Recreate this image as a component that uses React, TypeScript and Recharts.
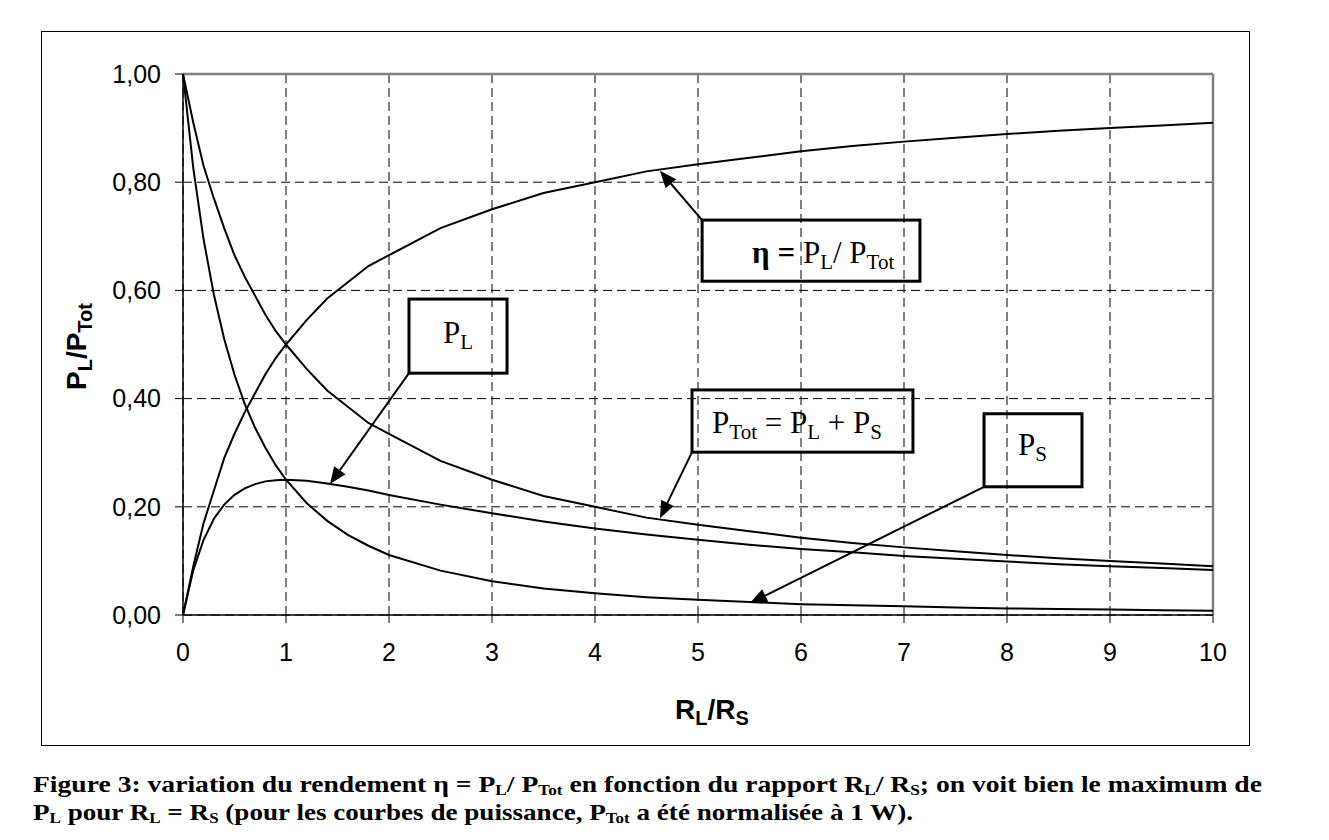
import React from 'react';
import { LineChart, Line, XAxis, YAxis, CartesianGrid, ReferenceLine, ReferenceArea } from 'recharts';

// R_L / R_S
const ratio = [0, 0.1, 0.2, 0.3, 0.4, 0.5, 0.6, 0.7, 0.8, 0.9, 1, 1.2, 1.4, 1.6, 1.8, 2, 2.5, 3, 3.5, 4, 4.5, 5, 5.5, 6, 6.5, 7, 7.5, 8, 8.5, 9, 9.5, 10];
// η = PL / PTot
const eta = [0, 0.09, 0.17, 0.23, 0.29, 0.335, 0.375, 0.41, 0.445, 0.475, 0.5, 0.545, 0.585, 0.615, 0.645, 0.665, 0.715, 0.75, 0.78, 0.8, 0.82, 0.833, 0.845, 0.857, 0.867, 0.875, 0.882, 0.889, 0.895, 0.9, 0.905, 0.91];
// PTot
const pTot = [1, 0.91, 0.83, 0.77, 0.715, 0.665, 0.625, 0.59, 0.555, 0.525, 0.5, 0.455, 0.415, 0.385, 0.355, 0.335, 0.285, 0.25, 0.22, 0.2, 0.18, 0.167, 0.155, 0.143, 0.133, 0.125, 0.118, 0.111, 0.105, 0.1, 0.095, 0.09];
// PL
const pL = [0, 0.083, 0.139, 0.178, 0.204, 0.222, 0.234, 0.242, 0.247, 0.249, 0.25, 0.248, 0.243, 0.237, 0.23, 0.222, 0.204, 0.188, 0.173, 0.16, 0.149, 0.139, 0.13, 0.122, 0.116, 0.109, 0.104, 0.099, 0.094, 0.09, 0.087, 0.083];
// PS
const pS = [1, 0.826, 0.694, 0.592, 0.51, 0.444, 0.39, 0.346, 0.309, 0.277, 0.25, 0.207, 0.174, 0.148, 0.128, 0.111, 0.082, 0.0625, 0.049, 0.04, 0.033, 0.028, 0.024, 0.02, 0.018, 0.016, 0.014, 0.012, 0.011, 0.01, 0.009, 0.008];

const xTicks = [0, 1, 2, 3, 4, 5, 6, 7, 8, 9, 10];
const yTicks = [0, 0.2, 0.4, 0.6, 0.8, 1];

// annotation boxes [x1, x2, y1, y2] in data units
const etaBox = [5.04, 7.155, 0.617, 0.730];
const pLBox = [2.194, 3.146, 0.447, 0.584];
const pTotBox = [4.942, 7.087, 0.301, 0.416];
const pSBox = [7.777, 8.728, 0.237, 0.372];

// arrows: from box corner to curve
const etaArrow = [[5.04, 0.730], [4.63, 0.821]];
const pLArrow = [[2.194, 0.447], [1.427, 0.242]];
const pTotArrow = [[4.942, 0.301], [4.631, 0.179]];
const pSArrow = [[7.777, 0.237], [5.505, 0.022]];

const data = ratio.map((r, i) => ({ r, eta: eta[i], pTot: pTot[i], pL: pL[i], pS: pS[i] }));

const SANS = '"Liberation Sans", Arial, sans-serif';
const SERIF = '"Liberation Serif", "Times New Roman", serif';

const fmt = (v: number) => v.toFixed(2).replace('.', ',');

// parts: plain strings, or ['sub', text] for subscripts
type Part = string | [string, string];
const rich = (parts: Part[], subSize: number, shift: number, boldFirst = '') => {
  let down = false;
  const out: React.ReactNode[] = [];
  if (boldFirst) out.push(<tspan key="b" fontWeight="bold">{boldFirst}</tspan>);
  parts.forEach((p, i) => {
    if (Array.isArray(p)) {
      out.push(<tspan key={i} fontSize={subSize} dy={down ? 0 : shift}>{p[1]}</tspan>);
      down = true;
    } else {
      out.push(<tspan key={i} dy={down ? -shift : 0}>{p}</tspan>);
      down = false;
    }
  });
  return out;
};
const S = (t: string): [string, string] => ['sub', t];

const Arrow = (p: any) => {
  const { x1, y1, x2, y2 } = p;
  const a = Math.atan2(y2 - y1, x2 - x1);
  const len = 17, hw = 7;
  const bx = x2 - len * Math.cos(a), by = y2 - len * Math.sin(a);
  const pts = [
    [x2, y2],
    [bx + hw * Math.sin(a), by - hw * Math.cos(a)],
    [bx - hw * Math.sin(a), by + hw * Math.cos(a)],
  ].map(q => q.join(',')).join(' ');
  return (
    <g>
      <line x1={x1} y1={y1} x2={bx} y2={by} stroke="#000" strokeWidth={2} />
      <polygon points={pts} fill="#000" />
    </g>
  );
};

const box = (dx: number, dy: number, parts: Part[], boldFirst = '') => (p: any) => (
  <g>
    <rect x={p.x} y={p.y} width={p.width} height={p.height} fill="none" stroke="#000" strokeWidth={3} />
    <text x={p.x + dx} y={p.y + dy} fontFamily={SERIF} fontSize={31} fill="#000">{rich(parts, 21, 6, boldFirst)}</text>
  </g>
);

const YLabel = (p: any) => {
  const vb = p.viewBox;
  const cx = vb.x + 86, cy = vb.y + vb.height / 2 + 2;
  return (
    <text x={cx} y={cy} transform={`rotate(-90 ${cx} ${cy})`} textAnchor="middle" fontFamily={SANS} fontWeight="bold" fontSize={28} fill="#000">
      {rich(['P', S('L'), '/P', S('Tot')], 20, 6)}
    </text>
  );
};

const XLabel = (p: any) => {
  const vb = p.viewBox;
  return (
    <text x={vb.x + vb.width / 2 + 14} y={vb.y + 104} textAnchor="middle" fontFamily={SANS} fontWeight="bold" fontSize={28} fill="#000">
      {rich(['R', S('L'), '/R', S('S')], 20, 6)}
    </text>
  );
};

const captionLine1: Part[] = ['Figure 3: variation du rendement η = P', S('L'), '/ P', S('Tot'), ' en fonction du rapport R', S('L'), '/ R', S('S'), '; on voit bien le maximum de'];
const captionLine2: Part[] = ['P', S('L'), ' pour R', S('L'), ' = R', S('S'), ' (pour les courbes de puissance, P', S('Tot'), ' a été normalisée à 1 W).'];

export default function App() {
  return (
    <div style={{ position: 'absolute', left: 0, top: 0, width: 1329, height: 840, background: '#fff' }}>
      <div style={{ position: 'absolute', left: 41, top: 31, width: 1207, height: 713, border: '1px solid #000' }} />
      <div style={{ position: 'absolute', left: 0, top: 0 }}>
        <LineChart width={1329} height={840} data={data} margin={{ top: 74, right: 116, bottom: 185, left: 0 }}>
          <CartesianGrid stroke="#000" strokeDasharray="9 5" strokeWidth={1} />
          <XAxis
            type="number"
            dataKey="r"
            domain={[0, 10]}
            ticks={xTicks}
            height={40}
            tickSize={8}
            tickMargin={20}
            axisLine={{ stroke: '#000', strokeWidth: 1.5 }}
            tickLine={{ stroke: '#000' }}
            tick={{ fill: '#000', fontFamily: SANS, fontSize: 25 }}
            label={{ content: XLabel }}
          />
          <YAxis
            type="number"
            domain={[0, 1]}
            ticks={yTicks}
            width={183}
            tickSize={8}
            tickMargin={14}
            tickFormatter={fmt}
            axisLine={{ stroke: '#000', strokeWidth: 1.5 }}
            tickLine={{ stroke: '#000' }}
            tick={{ fill: '#000', fontFamily: SANS, fontSize: 25 }}
            label={{ content: YLabel }}
          />
          <ReferenceLine y={1} stroke="#808080" strokeWidth={2.5} />
          <ReferenceLine x={10} stroke="#808080" strokeWidth={2.5} />
          <Line type="linear" dataKey="eta" stroke="#000" strokeWidth={2} dot={false} isAnimationActive={false} />
          <Line type="linear" dataKey="pTot" stroke="#000" strokeWidth={2} dot={false} isAnimationActive={false} />
          <Line type="linear" dataKey="pL" stroke="#000" strokeWidth={2} dot={false} isAnimationActive={false} />
          <Line type="linear" dataKey="pS" stroke="#000" strokeWidth={2} dot={false} isAnimationActive={false} />

          <ReferenceArea x1={etaBox[0]} x2={etaBox[1]} y1={etaBox[2]} y2={etaBox[3]}
            shape={box(50, 43, [' P', S('L'), '/ P', S('Tot')], 'η =')} />
          <ReferenceArea x1={pLBox[0]} x2={pLBox[1]} y1={pLBox[2]} y2={pLBox[3]}
            shape={box(34, 44, ['P', S('L')])} />
          <ReferenceArea x1={pTotBox[0]} x2={pTotBox[1]} y1={pTotBox[2]} y2={pTotBox[3]}
            shape={box(20, 43, ['P', S('Tot'), ' = P', S('L'), ' + P', S('S')])} />
          <ReferenceArea x1={pSBox[0]} x2={pSBox[1]} y1={pSBox[2]} y2={pSBox[3]}
            shape={box(34, 41, ['P', S('S')])} />

          <ReferenceLine segment={[{ x: etaArrow[0][0], y: etaArrow[0][1] }, { x: etaArrow[1][0], y: etaArrow[1][1] }]} shape={Arrow} />
          <ReferenceLine segment={[{ x: pLArrow[0][0], y: pLArrow[0][1] }, { x: pLArrow[1][0], y: pLArrow[1][1] }]} shape={Arrow} />
          <ReferenceLine segment={[{ x: pTotArrow[0][0], y: pTotArrow[0][1] }, { x: pTotArrow[1][0], y: pTotArrow[1][1] }]} shape={Arrow} />
          <ReferenceLine segment={[{ x: pSArrow[0][0], y: pSArrow[0][1] }, { x: pSArrow[1][0], y: pSArrow[1][1] }]} shape={Arrow} />
        </LineChart>
      </div>
      <svg width={1329} height={840} style={{ position: 'absolute', left: 0, top: 0, pointerEvents: 'none' }}>
        <text x={33} y={792} textLength={1229} lengthAdjust="spacingAndGlyphs" fontFamily={SERIF} fontWeight="bold" fontSize={24} fill="#000">
          {rich(captionLine1, 15, 3)}
        </text>
        <text x={33} y={820} textLength={880} lengthAdjust="spacingAndGlyphs" fontFamily={SERIF} fontWeight="bold" fontSize={24} fill="#000">
          {rich(captionLine2, 15, 3)}
        </text>
      </svg>
    </div>
  );
}
